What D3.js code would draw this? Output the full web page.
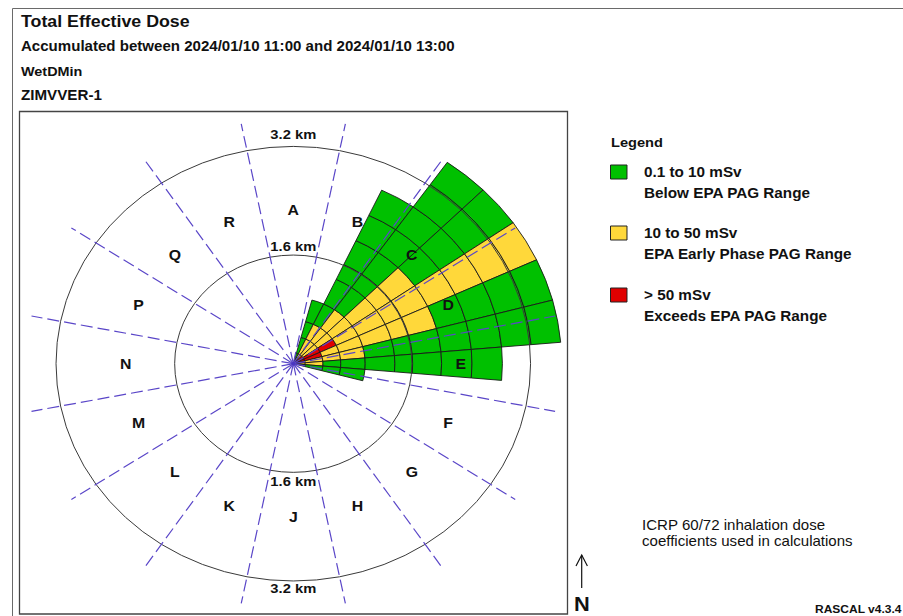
<!DOCTYPE html>
<html>
<head>
<meta charset="utf-8">
<script src="https://cdn.jsdelivr.net/npm/d3@7"></script>
<style>
  body { margin: 0; background: #fff; }
  svg { display: block; }
  text { font-family: Arial, "Liberation Sans", sans-serif; }
</style>
</head>
<body>
<svg id="chart" width="903" height="616"></svg>
<script>
// ---- Dose classes shown in the legend ----
const doseClasses = ["0.1 to 10 mSv", "10 to 50 mSv", "> 50 mSv"];
const classNotes  = ["Below EPA PAG Range", "EPA Early Phase PAG Range", "Exceeds EPA PAG Range"];
const classColors = ["#00c000", "#ffd83a", "#e00000"];

// ---- Plume grid ----
// radial cell edges (km from the release point)
const ringEdges = [0, 0.16, 0.4, 0.64, 0.97, 1.37, 1.61, 2.0, 2.41, 2.82, 3.22, 3.62];
// first bearing of each 10-degree slice (degrees clockwise from north)
const sliceStart = [15, 25, 35, 45, 55, 65, 75, 85, 95];
const sliceWidth = 10;
// dose class of every cell, inner to outer (1 = green, 2 = yellow, 3 = red)
const sliceClasses = [
  [1, 1, 1, 1],
  [2, 2, 2, 1, 1, 1, 1, 1, 1],
  [2, 2, 2, 2, 1, 1, 1, 1, 1, 1, 1],
  [3, 2, 2, 2, 2, 2, 2, 1, 1, 1, 1],
  [3, 3, 3, 2, 2, 2, 2, 2, 2, 2, 2],
  [3, 3, 2, 2, 2, 2, 2, 1, 1, 1, 1],
  [3, 2, 2, 2, 1, 1, 1, 1, 1, 1, 1],
  [2, 2, 1, 1, 1, 1, 1, 1, 1],
  [1, 1, 1, 1]
];

// ---- Compass sectors and range rings ----
const sectorLetters = ["A","B","C","D","E","F","G","H","J","K","L","M","N","P","Q","R"];
const rangeRings = [1.6, 3.2];
const rangeLabels = ["1.6 km", "3.2 km"];
const sectorLineReach = 3.6;   // km
const letterRadius = 2.26;     // km

// ---- Header and notes ----
const titleLines = [
  "Total Effective Dose",
  "Accumulated between 2024/01/10 11:00 and 2024/01/10 13:00",
  "WetDMin",
  "ZIMVVER-1"
];
const noteLines = ["ICRP 60/72 inhalation dose", "coefficients used in calculations"];
const versionText = "RASCAL v4.3.4";

// ---------------------------------------------------------------
const sx = 1.092;                 // horizontal stretch of the whole drawing
const X = v => v / sx;            // screen x -> drawing x
const svg = d3.select("#chart");
const root = svg.append("g").attr("transform", `scale(${sx},1)`);

// outer page border and plot frame
root.append("rect")
  .attr("x", X(12.5)).attr("y", 8.5).attr("width", 1000).attr("height", 1000)
  .attr("fill", "none").attr("stroke", "#6a6a6a").attr("stroke-width", 1)
  .attr("vector-effect", "non-scaling-stroke");
root.append("rect")
  .attr("x", X(19.5)).attr("y", 111.5).attr("width", X(567.5) - X(19.5)).attr("height", 502.5)
  .attr("fill", "none").attr("stroke", "#444").attr("stroke-width", 1.3)
  .attr("vector-effect", "non-scaling-stroke");

// header lines
const titleSizes = [16.3, 13.8, 13.2, 13.9];
const titleBase = [27.5, 51.3, 76.3, 99.7];
root.selectAll("text.title").data(titleLines).join("text")
  .attr("class", "title")
  .attr("x", X(21))
  .attr("y", (d, i) => titleBase[i])
  .attr("font-size", (d, i) => titleSizes[i])
  .attr("font-weight", "bold")
  .attr("fill", "#111")
  .text(d => d);

// ---- polar plot ----
const cx = X(293.3), cy = 363.7;
const r = d3.scaleLinear().domain([0, 1]).range([0, 67.9]);   // km -> px
const toRad = deg => deg * Math.PI / 180;
const plot = root.append("g").attr("transform", `translate(${cx},${cy})`);

// flatten the grid into cells
const cells = [];
sliceStart.forEach((b, i) => {
  sliceClasses[i].forEach((c, j) => {
    if (c > 0) cells.push({ b0: b, b1: b + sliceWidth, r0: ringEdges[j], r1: ringEdges[j + 1], c });
  });
});

const arc = d3.arc()
  .startAngle(d => toRad(d.b0))
  .endAngle(d => toRad(d.b1))
  .innerRadius(d => r(d.r0))
  .outerRadius(d => r(d.r1));

plot.append("g").selectAll("path").data(cells).join("path")
  .attr("d", arc)
  .attr("fill", d => classColors[d.c - 1])
  .attr("stroke", "#1a1a1a")
  .attr("stroke-width", 0.9)
  .attr("stroke-linejoin", "round")
  .attr("vector-effect", "non-scaling-stroke");

// range rings
plot.append("g").selectAll("circle").data(rangeRings).join("circle")
  .attr("r", d => r(d))
  .attr("fill", "none")
  .attr("stroke", "#3a3a3a")
  .attr("stroke-width", 1)
  .attr("vector-effect", "non-scaling-stroke");

// sector boundaries
const boundaries = d3.range(16).map(i => 11.25 + 22.5 * i);
plot.append("g").selectAll("line").data(boundaries).join("line")
  .attr("x1", 0).attr("y1", 0)
  .attr("x2", d => d3.pointRadial(toRad(d), r(sectorLineReach))[0])
  .attr("y2", d => d3.pointRadial(toRad(d), r(sectorLineReach))[1])
  .attr("stroke", "#5a46c8")
  .attr("stroke-width", 1.2)
  .attr("stroke-dasharray", "12,5")
  .attr("vector-effect", "non-scaling-stroke");
plot.append("circle").attr("r", 1.8).attr("fill", "#4a36c0");

// sector letters
plot.append("g").selectAll("text").data(sectorLetters).join("text")
  .attr("x", (d, i) => d3.pointRadial(toRad(22.5 * i), r(letterRadius))[0])
  .attr("y", (d, i) => d3.pointRadial(toRad(22.5 * i), r(letterRadius))[1])
  .attr("text-anchor", "middle")
  .attr("dy", "0.36em")
  .attr("font-size", 14.5)
  .attr("font-weight", "bold")
  .attr("fill", "#111")
  .text(d => d);

// range labels above and below each ring
const ringLabelRows = [];
rangeRings.forEach((km, i) => {
  ringLabelRows.push({ t: rangeLabels[i], y: -r(km) - (km > 2 ? 7 : 4) });
  ringLabelRows.push({ t: rangeLabels[i], y: r(km) + (km > 2 ? 12.5 : 14) });
});
plot.append("g").selectAll("text").data(ringLabelRows).join("text")
  .attr("x", 0)
  .attr("y", d => d.y)
  .attr("text-anchor", "middle")
  .attr("font-size", 13.5)
  .attr("font-weight", "bold")
  .attr("fill", "#111")
  .text(d => d.t);

// ---- legend ----
root.append("text")
  .attr("x", X(611)).attr("y", 147)
  .attr("font-size", 13.4).attr("font-weight", "bold").attr("fill", "#111")
  .text("Legend");
const legendTop = [165, 226, 288];
const lg = root.append("g").selectAll("g").data(doseClasses).join("g");
lg.append("rect")
  .attr("x", X(610.5)).attr("y", (d, i) => legendTop[i])
  .attr("width", X(627) - X(610.5)).attr("height", 14)
  .attr("fill", (d, i) => classColors[i])
  .attr("stroke", "#222").attr("stroke-width", 1)
  .attr("vector-effect", "non-scaling-stroke");
lg.append("text")
  .attr("x", X(644)).attr("y", (d, i) => legendTop[i] + 12.5)
  .attr("font-size", 14).attr("font-weight", "bold").attr("fill", "#111")
  .text(d => d);
lg.append("text")
  .attr("x", X(644)).attr("y", (d, i) => legendTop[i] + 33)
  .attr("font-size", 14).attr("font-weight", "bold").attr("fill", "#111")
  .text((d, i) => classNotes[i]);

// ---- notes ----
root.selectAll("text.note").data(noteLines).join("text")
  .attr("class", "note")
  .attr("x", X(642)).attr("y", (d, i) => 530 + i * 16)
  .attr("font-size", 13.8).attr("fill", "#111")
  .text(d => d);
root.append("text")
  .attr("x", X(815)).attr("y", 613.5)
  .attr("font-size", 11).attr("font-weight", "bold").attr("fill", "#111")
  .text(versionText);

// north arrow
const na = root.append("g").attr("stroke", "#111").attr("stroke-width", 1.2).attr("fill", "none");
na.append("line").attr("x1", X(581.7)).attr("y1", 555).attr("x2", X(581.7)).attr("y2", 588)
  .attr("vector-effect", "non-scaling-stroke");
na.append("polyline")
  .attr("points", `${X(576)},566 ${X(581.7)},555 ${X(587.4)},566`)
  .attr("vector-effect", "non-scaling-stroke");
root.append("text")
  .attr("x", X(582)).attr("y", 611.5)
  .attr("text-anchor", "middle")
  .attr("font-size", 20).attr("font-weight", "bold").attr("fill", "#111")
  .text("N");
</script>
</body>
</html>
